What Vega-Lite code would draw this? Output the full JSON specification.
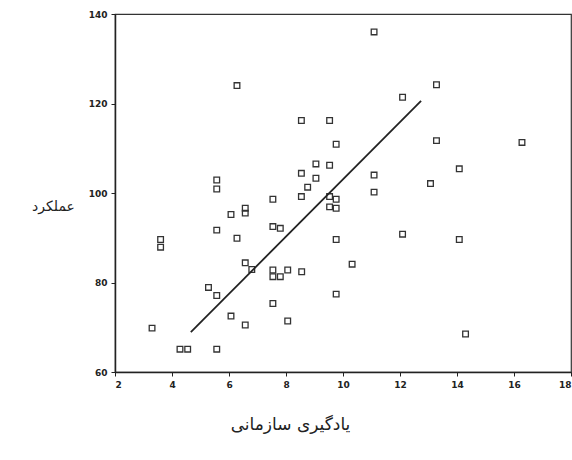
{
  "$schema": "https://vega.github.io/schema/vega-lite/v6.json",
  "width": 456,
  "height": 358,
  "autosize": {"type": "none"},
  "padding": {"left": 115, "top": 14, "right": 1, "bottom": 88},
  "background": "white",
  "config": {
    "view": {"stroke": "#333", "strokeWidth": 1.2},
    "axis": {"grid": false, "domainColor": "#222", "domainWidth": 1.5, "tickColor": "#222", "tickSize": 4, "labelFont": "DejaVu Sans", "labelFontSize": 9, "labelColor": "#222", "labelFontWeight": "bold", "titleFont": "DejaVu Sans", "titleFontWeight": "normal", "titleColor": "#222", "titleFontSize": 14}
  },
  "datasets": {
    "pts": [
      {"x": 3.3, "y": 69.8}, {"x": 3.6, "y": 89.6}, {"x": 3.6, "y": 87.9},
      {"x": 4.28, "y": 65.1}, {"x": 4.55, "y": 65.1}, {"x": 5.28, "y": 78.9},
      {"x": 5.57, "y": 77.1}, {"x": 5.57, "y": 65.1}, {"x": 5.57, "y": 91.7},
      {"x": 5.57, "y": 100.9}, {"x": 5.57, "y": 102.9}, {"x": 6.07, "y": 95.2},
      {"x": 6.07, "y": 72.5}, {"x": 6.28, "y": 89.9}, {"x": 6.28, "y": 124.0},
      {"x": 6.57, "y": 96.6}, {"x": 6.57, "y": 95.5}, {"x": 6.57, "y": 84.4},
      {"x": 6.57, "y": 70.5}, {"x": 6.8, "y": 82.9}, {"x": 7.54, "y": 98.6},
      {"x": 7.54, "y": 92.5}, {"x": 7.8, "y": 92.1}, {"x": 7.54, "y": 82.8},
      {"x": 7.54, "y": 81.3}, {"x": 7.8, "y": 81.3}, {"x": 7.54, "y": 75.3},
      {"x": 8.06, "y": 82.8}, {"x": 8.06, "y": 71.4}, {"x": 8.55, "y": 82.4},
      {"x": 8.54, "y": 99.2}, {"x": 8.76, "y": 101.3}, {"x": 8.54, "y": 104.4},
      {"x": 8.54, "y": 116.2}, {"x": 9.05, "y": 106.5}, {"x": 9.05, "y": 103.3},
      {"x": 9.53, "y": 106.2}, {"x": 9.53, "y": 116.2}, {"x": 9.76, "y": 110.9},
      {"x": 9.53, "y": 99.2}, {"x": 9.76, "y": 98.6}, {"x": 9.53, "y": 96.9},
      {"x": 9.76, "y": 96.6}, {"x": 9.76, "y": 89.6}, {"x": 9.76, "y": 77.4},
      {"x": 10.32, "y": 84.1}, {"x": 11.09, "y": 136.0}, {"x": 11.09, "y": 104.0},
      {"x": 11.09, "y": 100.2}, {"x": 12.09, "y": 121.4}, {"x": 12.09, "y": 90.8},
      {"x": 13.07, "y": 102.1}, {"x": 13.28, "y": 124.2}, {"x": 13.28, "y": 111.7},
      {"x": 14.08, "y": 105.4}, {"x": 14.08, "y": 89.6}, {"x": 14.3, "y": 68.5},
      {"x": 16.28, "y": 111.3}
    ],
    "fit": [
      {"x": 4.66, "y": 68.9}, {"x": 12.74, "y": 120.6}
    ]
  },
  "layer": [
    {
      "data": {"name": "pts"},
      "mark": {"type": "point", "shape": "square", "filled": false, "size": 32, "strokeWidth": 1.3, "color": "#333", "opacity": 1},
      "encoding": {
        "x": {"field": "x", "type": "quantitative", "scale": {"domain": [2, 18], "nice": false, "zero": false},
              "axis": {"values": [2, 4, 6, 8, 10, 12, 14, 16, 18], "title": "یادگیری سازمانی", "titleX": 175, "titleY": 44, "titleAlign": "center", "titleFontSize": 17, "labelPadding": 4}},
        "y": {"field": "y", "type": "quantitative", "scale": {"domain": [60, 140], "nice": false, "zero": false},
              "axis": {"values": [60, 80, 100, 120, 140], "title": "عملکرد", "titleAngle": 0, "titleX": -62, "titleY": 192, "titleAlign": "center", "titleBaseline": "middle", "labelPadding": 4}}
      }
    },
    {
      "data": {"name": "fit"},
      "mark": {"type": "line", "color": "#222", "strokeWidth": 1.8},
      "encoding": {
        "x": {"field": "x", "type": "quantitative"},
        "y": {"field": "y", "type": "quantitative"}
      }
    }
  ]
}
